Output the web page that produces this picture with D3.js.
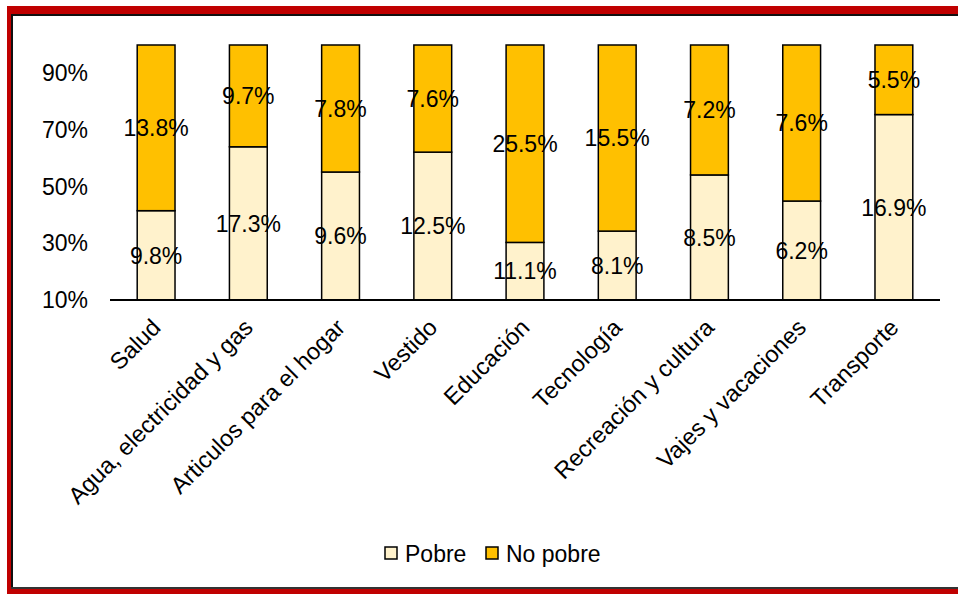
<!DOCTYPE html>
<html lang="es">
<head>
<meta charset="UTF-8">
<script src="https://cdn.jsdelivr.net/npm/d3@7"></script>
<style>
  html, body { margin: 0; background: #fff; overflow: hidden; }
  svg { display: block; overflow: hidden; }
  text { font-family: "Liberation Sans", Arial, sans-serif; fill: #000; }
</style>
</head>
<body>
<script>
const categories = ["Salud", "Agua, electricidad y gas", "Articulos para el hogar", "Vestido",
  "Educación", "Tecnología", "Recreación y cultura", "Vajes y vacaciones", "Transporte"];
const pobre = [9.8, 17.3, 9.6, 12.5, 11.1, 8.1, 8.5, 6.2, 16.9];
const noPobre = [13.8, 9.7, 7.8, 7.6, 25.5, 15.5, 7.2, 7.6, 5.5];
const seriesNames = ["Pobre", "No pobre"];
const yTicks = [0.1, 0.3, 0.5, 0.7, 0.9];

const w = 958, h = 594;
const colors = ["#FFF2CC", "#FFC000"];

const svg = d3.select("body").append("svg").attr("width", w).attr("height", h);

// frame: red band on top, left and bottom, runs off the right edge
const frame = svg.append("g");
frame.append("rect").attr("x", 7).attr("y", 6).attr("width", w - 7).attr("height", 8).attr("fill", "#C00000");
frame.append("rect").attr("x", 7).attr("y", 6).attr("width", 4).attr("height", h - 6).attr("fill", "#C00000");
frame.append("rect").attr("x", 7).attr("y", 589).attr("width", w - 7).attr("height", 5).attr("fill", "#C00000");
frame.append("rect").attr("x", 11).attr("y", 14).attr("width", w - 11).attr("height", 2).attr("fill", "#111");
frame.append("rect").attr("x", 11).attr("y", 14).attr("width", 2).attr("height", 575).attr("fill", "#111");
frame.append("rect").attr("x", 11).attr("y", 587).attr("width", w - 11).attr("height", 2).attr("fill", "#333");

const x = d3.scaleBand().domain(categories).range([110, 940]).paddingInner(0.59).paddingOuter(0.295);
const y = d3.scaleLinear().domain([0.1, 1]).range([300, 45]);

// stacked shares, axis starts at 10%
const rows = categories.map((c, i) => {
  const tot = pobre[i] + noPobre[i];
  return { cat: c, p: pobre[i], n: noPobre[i], ps: pobre[i] / tot };
});

const segs = [];
rows.forEach(r => {
  segs.push({ cat: r.cat, s: 0, y0: 0.1, y1: r.ps, v: r.p });
  segs.push({ cat: r.cat, s: 1, y0: r.ps, y1: 1, v: r.n });
});

svg.append("g").selectAll("rect").data(segs).enter().append("rect")
  .attr("x", d => x(d.cat))
  .attr("width", x.bandwidth())
  .attr("y", d => y(d.y1))
  .attr("height", d => y(d.y0) - y(d.y1))
  .attr("fill", d => colors[d.s])
  .attr("stroke", "#000")
  .attr("stroke-width", 1.5);

svg.append("g").selectAll("text").data(segs).enter().append("text")
  .attr("x", d => x(d.cat) + x.bandwidth() / 2)
  .attr("y", d => (y(d.y0) + y(d.y1)) / 2)
  .attr("dy", "0.36em")
  .attr("text-anchor", "middle")
  .style("font-size", "23px")
  .text(d => d.v.toFixed(1) + "%");

// y axis labels (no line)
const yAxis = d3.axisLeft(y).tickValues(yTicks).tickSize(0).tickPadding(0).tickFormat(d3.format(".0%"));
const gy = svg.append("g").attr("transform", "translate(88,0)").call(yAxis);
gy.select(".domain").remove();
gy.selectAll("text").style("font-size", "23px").attr("font-family", null);

// x axis
const xAxis = d3.axisBottom(x).tickSize(0).tickPadding(0);
const gx = svg.append("g").attr("transform", "translate(0,300)").call(xAxis);
gx.select(".domain").attr("stroke", "#000").attr("stroke-width", 2).attr("d", "M110,0H940");
gx.selectAll("text")
  .style("font-size", "23.5px").attr("font-family", null)
  .attr("text-anchor", "end")
  .attr("dy", null).attr("y", 0)
  .attr("transform", "translate(6,29) rotate(-45)");

// legend
const legend = svg.append("g");
const lx = [385, 486];
seriesNames.forEach((n, i) => {
  legend.append("rect").attr("x", lx[i]).attr("y", 547).attr("width", 12).attr("height", 12)
    .attr("fill", colors[i]).attr("stroke", "#000").attr("stroke-width", 1.5);
  legend.append("text").attr("x", lx[i] + 20).attr("y", 562).style("font-size", "23px").text(n);
});
</script>
</body>
</html>
